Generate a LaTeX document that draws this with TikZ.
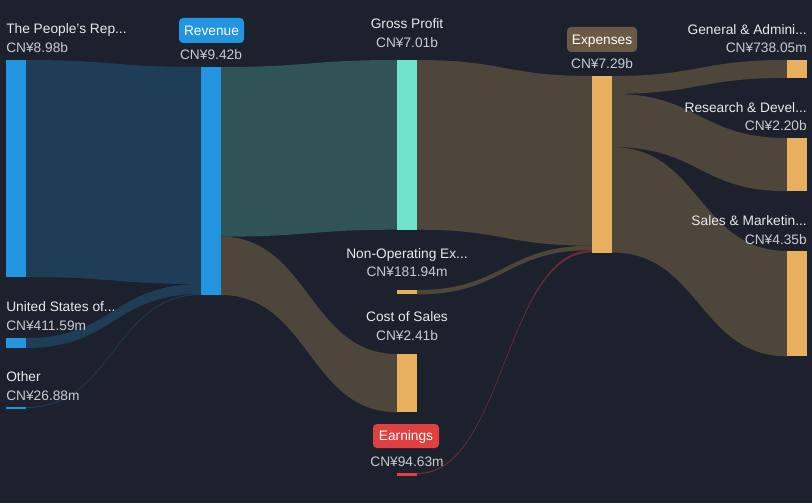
\documentclass[tikz,border=0pt]{standalone}
\usepackage{fontspec}
\setmainfont{Liberation Sans}
\usetikzlibrary{calc}
\definecolor{bg}{HTML}{1C212D}
\definecolor{barblue}{HTML}{2394E0}
\definecolor{barteal}{HTML}{6FE3CC}
\definecolor{barorange}{HTML}{E8B05E}
\definecolor{barred}{HTML}{E0403F}
\definecolor{flowblue}{HTML}{1E3D57}
\definecolor{flowteal}{HTML}{2F5356}
\definecolor{flowbrown}{HTML}{4E463A}
\definecolor{flowred}{HTML}{6A2C38}
\definecolor{badgebrown}{HTML}{6B5A43}
\definecolor{txtname}{HTML}{E8E9EB}
\definecolor{txtval}{HTML}{C9CBCF}
\newlength\pxu
\setlength\pxu{0.75pt}
\tikzset{
  bar/.style={rectangle,inner sep=0pt,outer sep=0pt,minimum width=20\pxu,anchor=north west},
  lbl/.style={inner sep=0pt,font=\fontsize{10.3}{12}\selectfont},
  nametxt/.style={lbl,text=txtname},
  valtxt/.style={lbl,text=txtval},
  badge/.style={lbl,text=white,rounded corners=3pt,text height=7.4pt,text depth=0pt,minimum height=25\pxu}
}
% ribbon: colour, from bar, top, bottom, to bar, top, bottom (offsets in px)
\newcommand\flow[7]{%
  \fill[#1] ($(#2.north east)+(0,#3)$) .. controls +(87.5,0) and +(-87.5,0) .. ($(#5.north west)+(0,#6)$)
    -- ($(#5.north west)+(0,#7)$) .. controls +(-87.5,0) and +(87.5,0) .. ($(#2.north east)+(0,#4)$) -- cycle;}
\begin{document}
\begin{tikzpicture}[x=0.75pt,y=-0.75pt]
  \fill[bg] (0,0) rectangle (812,503);
  \useasboundingbox (0,0) rectangle (812,503);
  % bars
  \node[bar,fill=barblue,minimum height=217\pxu] (pr) at (6,60) {};
  \node[bar,fill=barblue,minimum height=10\pxu] (us) at (6,338) {};
  \node[bar,fill=barblue,minimum height=1.5\pxu] (oth) at (6,407) {};
  \node[bar,fill=barblue,minimum height=228\pxu] (rev) at (201,67) {};
  \node[bar,fill=barteal,minimum height=169.7\pxu] (gp) at (397,60) {};
  \node[bar,fill=barorange,minimum height=4.4\pxu] (nonop) at (397,290) {};
  \node[bar,fill=barorange,minimum height=58.3\pxu] (cos) at (397,354) {};
  \node[bar,fill=barred,minimum height=2.5\pxu] (earn) at (397,473) {};
  \node[bar,fill=barorange,minimum height=176.5\pxu] (exp) at (592,76) {};
  \node[bar,fill=barorange,minimum height=17.9\pxu] (ga) at (787,60) {};
  \node[bar,fill=barorange,minimum height=53.2\pxu] (rd) at (787,138) {};
  \node[bar,fill=barorange,minimum height=105.3\pxu] (sm) at (787,251) {};
  % flows
  \flow{flowblue}{pr}{0}{217}{rev}{0}{217}
  \flow{flowblue}{us}{0}{10}{rev}{217}{227}
  \flow{flowblue}{oth}{0}{1}{rev}{227}{228}
  \flow{flowteal}{rev}{0}{169.7}{gp}{0}{169.7}
  \flow{flowbrown}{rev}{169.7}{228}{cos}{0}{58.3}
  \flow{flowbrown}{gp}{0}{169.7}{exp}{0}{169.7}
  \flow{flowbrown}{nonop}{0}{4.4}{exp}{169.7}{174.1}
  \flow{flowred}{earn}{0}{1.2}{exp}{174.1}{176.4}
  \flow{flowbrown}{exp}{0}{17.9}{ga}{0}{17.9}
  \flow{flowbrown}{exp}{17.9}{71.1}{rd}{0}{53.2}
  \flow{flowbrown}{exp}{71.1}{176.5}{sm}{0}{105.3}
  % bars again on top of the ribbons
  \foreach \b/\c in {pr/barblue,us/barblue,oth/barblue,rev/barblue,gp/barteal,nonop/barorange,cos/barorange,earn/barred,exp/barorange,ga/barorange,rd/barorange,sm/barorange}
    \fill[\c] (\b.north west) rectangle (\b.south east);
  % labels
  \node[nametxt,anchor=base west] (prt) at (6,34) {The People's Rep...};
  \node[valtxt,anchor=base west] (prv) at (6,53) {CN¥8.98b};
  \node[nametxt,anchor=base west] (ust) at (6,311.7) {United States of...};
  \node[valtxt,anchor=base west] (usv) at (6,330) {CN¥411.59m};
  \node[nametxt,anchor=base west] (otht) at (6,381.7) {Other};
  \node[valtxt,anchor=base west] (othv) at (6,400) {CN¥26.88m};
  \node[badge,fill=barblue,minimum width=65\pxu] (revt) at (211.5,30.5) {Revenue};
  \node[valtxt,anchor=base] (revv) at (211,60) {CN¥9.42b};
  \node[nametxt,anchor=base] (gpt) at (407,28.5) {Gross Profit};
  \node[valtxt,anchor=base] (gpv) at (407,47.3) {CN¥7.01b};
  \node[nametxt,anchor=base] (nonopt) at (407,258.3) {Non-Operating Ex...};
  \node[valtxt,anchor=base] (nonopv) at (407,276.7) {CN¥181.94m};
  \node[nametxt,anchor=base] (cost) at (407,321.7) {Cost of Sales};
  \node[valtxt,anchor=base] (cosv) at (407,340) {CN¥2.41b};
  \node[badge,fill=barred,minimum width=66\pxu,minimum height=24\pxu] (earnt) at (406,436) {Earnings};
  \node[valtxt,anchor=base] (earnv) at (407,466) {CN¥94.63m};
  \node[badge,fill=badgebrown,minimum width=70\pxu] (expt) at (602,39.5) {Expenses};
  \node[valtxt,anchor=base] (expv) at (602,68.3) {CN¥7.29b};
  \node[nametxt,anchor=base east] (gat) at (807,34.3) {General \& Admini...};
  \node[valtxt,anchor=base east] (gav) at (807,52.7) {CN¥738.05m};
  \node[nametxt,anchor=base east] (rdt) at (807,112.5) {Research \& Devel...};
  \node[valtxt,anchor=base east] (rdv) at (807,130.5) {CN¥2.20b};
  \node[nametxt,anchor=base east] (smt) at (807,225.5) {Sales \& Marketin...};
  \node[valtxt,anchor=base east] (smv) at (807,244) {CN¥4.35b};
\end{tikzpicture}
\end{document}
